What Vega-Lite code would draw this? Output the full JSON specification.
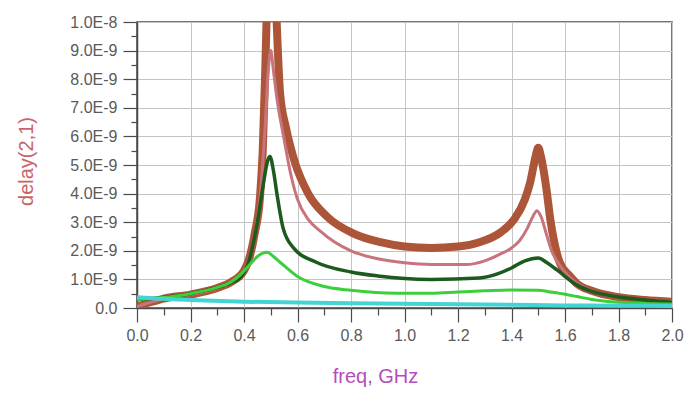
{
  "$schema": "https://vega.github.io/schema/vega-lite/v6.json",
  "autosize": {"type": "none"},
  "width": 535,
  "height": 286,
  "padding": {"left": 137, "top": 22, "right": 18, "bottom": 86},
  "background": "white",
  "config": {
    "view": {"stroke": "#4a4a4a", "strokeWidth": 1.5},
    "font": "Liberation Sans"
  },
  "datasets": {
    "delay": [
      {"f":0,"d":5e-11,"s":"s1"},{"f":0.05,"d":2e-10,"s":"s1"},{"f":0.1,"d":3.3e-10,"s":"s1"},{"f":0.2,"d":4.7e-10,"s":"s1"},{"f":0.3,"d":7e-10,"s":"s1"},{"f":0.35,"d":9e-10,"s":"s1"},{"f":0.4,"d":1.3e-9,"s":"s1"},{"f":0.42,"d":1.75e-9,"s":"s1"},{"f":0.44,"d":2.6e-9,"s":"s1"},{"f":0.46,"d":3.9e-9,"s":"s1"},{"f":0.47,"d":5.5e-9,"s":"s1"},{"f":0.48,"d":8.5e-9,"s":"s1"},{"f":0.49,"d":1.2e-8,"s":"s1"},{"f":0.5,"d":1.4e-8,"s":"s1"},{"f":0.51,"d":1.3e-8,"s":"s1"},{"f":0.52,"d":1.05e-8,"s":"s1"},{"f":0.535,"d":7.5e-9,"s":"s1"},{"f":0.557,"d":6.3e-9,"s":"s1"},{"f":0.59,"d":5.1e-9,"s":"s1"},{"f":0.64,"d":4.0e-9,"s":"s1"},{"f":0.71,"d":3.2e-9,"s":"s1"},{"f":0.81,"d":2.6e-9,"s":"s1"},{"f":0.91,"d":2.3e-9,"s":"s1"},{"f":1.0,"d":2.15e-9,"s":"s1"},{"f":1.1,"d":2.1e-9,"s":"s1"},{"f":1.2,"d":2.15e-9,"s":"s1"},{"f":1.28,"d":2.3e-9,"s":"s1"},{"f":1.36,"d":2.65e-9,"s":"s1"},{"f":1.41,"d":3.1e-9,"s":"s1"},{"f":1.45,"d":3.8e-9,"s":"s1"},{"f":1.47,"d":4.4e-9,"s":"s1"},{"f":1.49,"d":5.3e-9,"s":"s1"},{"f":1.5,"d":5.6e-9,"s":"s1"},{"f":1.51,"d":5.3e-9,"s":"s1"},{"f":1.53,"d":4.2e-9,"s":"s1"},{"f":1.545,"d":3.1e-9,"s":"s1"},{"f":1.56,"d":2.3e-9,"s":"s1"},{"f":1.58,"d":1.6e-9,"s":"s1"},{"f":1.62,"d":1.1e-9,"s":"s1"},{"f":1.645,"d":8.5e-10,"s":"s1"},{"f":1.7,"d":6e-10,"s":"s1"},{"f":1.8,"d":3.8e-10,"s":"s1"},{"f":1.9,"d":2.8e-10,"s":"s1"},{"f":2.0,"d":2.2e-10,"s":"s1"},

      {"f":0,"d":5e-11,"s":"s2"},{"f":0.05,"d":2e-10,"s":"s2"},{"f":0.1,"d":3.3e-10,"s":"s2"},{"f":0.2,"d":4.7e-10,"s":"s2"},{"f":0.3,"d":7e-10,"s":"s2"},{"f":0.35,"d":9e-10,"s":"s2"},{"f":0.4,"d":1.3e-9,"s":"s2"},{"f":0.42,"d":1.75e-9,"s":"s2"},{"f":0.44,"d":2.5e-9,"s":"s2"},{"f":0.46,"d":3.9e-9,"s":"s2"},{"f":0.48,"d":6.5e-9,"s":"s2"},{"f":0.49,"d":8.2e-9,"s":"s2"},{"f":0.5,"d":9.0e-9,"s":"s2"},{"f":0.51,"d":8.3e-9,"s":"s2"},{"f":0.525,"d":7.2e-9,"s":"s2"},{"f":0.546,"d":6.1e-9,"s":"s2"},{"f":0.572,"d":4.8e-9,"s":"s2"},{"f":0.6,"d":3.8e-9,"s":"s2"},{"f":0.64,"d":3.1e-9,"s":"s2"},{"f":0.684,"d":2.7e-9,"s":"s2"},{"f":0.74,"d":2.3e-9,"s":"s2"},{"f":0.8,"d":2.0e-9,"s":"s2"},{"f":0.9,"d":1.72e-9,"s":"s2"},{"f":1.0,"d":1.58e-9,"s":"s2"},{"f":1.1,"d":1.52e-9,"s":"s2"},{"f":1.23,"d":1.52e-9,"s":"s2"},{"f":1.3,"d":1.65e-9,"s":"s2"},{"f":1.35,"d":1.85e-9,"s":"s2"},{"f":1.4,"d":2.1e-9,"s":"s2"},{"f":1.43,"d":2.35e-9,"s":"s2"},{"f":1.46,"d":2.8e-9,"s":"s2"},{"f":1.48,"d":3.2e-9,"s":"s2"},{"f":1.495,"d":3.4e-9,"s":"s2"},{"f":1.51,"d":3.2e-9,"s":"s2"},{"f":1.53,"d":2.6e-9,"s":"s2"},{"f":1.55,"d":2.0e-9,"s":"s2"},{"f":1.58,"d":1.5e-9,"s":"s2"},{"f":1.62,"d":1.05e-9,"s":"s2"},{"f":1.7,"d":6e-10,"s":"s2"},{"f":1.8,"d":3.8e-10,"s":"s2"},{"f":1.9,"d":2.8e-10,"s":"s2"},{"f":2.0,"d":2.2e-10,"s":"s2"},

      {"f":0,"d":3e-10,"s":"s3"},{"f":0.05,"d":3.3e-10,"s":"s3"},{"f":0.1,"d":3.7e-10,"s":"s3"},{"f":0.2,"d":5e-10,"s":"s3"},{"f":0.3,"d":7.2e-10,"s":"s3"},{"f":0.35,"d":8.8e-10,"s":"s3"},{"f":0.385,"d":1.05e-9,"s":"s3"},{"f":0.42,"d":1.7e-9,"s":"s3"},{"f":0.45,"d":3.0e-9,"s":"s3"},{"f":0.47,"d":4.2e-9,"s":"s3"},{"f":0.49,"d":5.2e-9,"s":"s3"},{"f":0.497,"d":5.3e-9,"s":"s3"},{"f":0.51,"d":4.8e-9,"s":"s3"},{"f":0.523,"d":4.0e-9,"s":"s3"},{"f":0.546,"d":2.8e-9,"s":"s3"},{"f":0.585,"d":2.1e-9,"s":"s3"},{"f":0.67,"d":1.6e-9,"s":"s3"},{"f":0.8,"d":1.26e-9,"s":"s3"},{"f":0.9,"d":1.12e-9,"s":"s3"},{"f":1.0,"d":1.03e-9,"s":"s3"},{"f":1.1,"d":1.0e-9,"s":"s3"},{"f":1.28,"d":1.05e-9,"s":"s3"},{"f":1.35,"d":1.2e-9,"s":"s3"},{"f":1.4,"d":1.4e-9,"s":"s3"},{"f":1.45,"d":1.65e-9,"s":"s3"},{"f":1.5,"d":1.75e-9,"s":"s3"},{"f":1.53,"d":1.6e-9,"s":"s3"},{"f":1.57,"d":1.33e-9,"s":"s3"},{"f":1.645,"d":8e-10,"s":"s3"},{"f":1.7,"d":5.8e-10,"s":"s3"},{"f":1.79,"d":4e-10,"s":"s3"},{"f":1.9,"d":2.8e-10,"s":"s3"},{"f":2.0,"d":2e-10,"s":"s3"},

      {"f":0,"d":3e-10,"s":"s4"},{"f":0.05,"d":3.3e-10,"s":"s4"},{"f":0.1,"d":3.7e-10,"s":"s4"},{"f":0.2,"d":5e-10,"s":"s4"},{"f":0.3,"d":7.2e-10,"s":"s4"},{"f":0.35,"d":9e-10,"s":"s4"},{"f":0.385,"d":1.15e-9,"s":"s4"},{"f":0.42,"d":1.5e-9,"s":"s4"},{"f":0.45,"d":1.8e-9,"s":"s4"},{"f":0.486,"d":1.95e-9,"s":"s4"},{"f":0.51,"d":1.8e-9,"s":"s4"},{"f":0.535,"d":1.6e-9,"s":"s4"},{"f":0.6,"d":1.1e-9,"s":"s4"},{"f":0.7,"d":7.5e-10,"s":"s4"},{"f":0.8,"d":6.2e-10,"s":"s4"},{"f":0.97,"d":5.2e-10,"s":"s4"},{"f":1.1,"d":5.2e-10,"s":"s4"},{"f":1.2,"d":5.6e-10,"s":"s4"},{"f":1.3,"d":6e-10,"s":"s4"},{"f":1.4,"d":6.3e-10,"s":"s4"},{"f":1.5,"d":6.2e-10,"s":"s4"},{"f":1.545,"d":5.6e-10,"s":"s4"},{"f":1.6,"d":4.8e-10,"s":"s4"},{"f":1.645,"d":4e-10,"s":"s4"},{"f":1.7,"d":3e-10,"s":"s4"},{"f":1.8,"d":2e-10,"s":"s4"},{"f":1.9,"d":1.6e-10,"s":"s4"},{"f":2.0,"d":1.4e-10,"s":"s4"},

      {"f":0,"d":3.8e-10,"s":"s5"},{"f":0.1,"d":3.2e-10,"s":"s5"},{"f":0.2,"d":2.8e-10,"s":"s5"},{"f":0.4,"d":2.2e-10,"s":"s5"},{"f":0.6,"d":1.9e-10,"s":"s5"},{"f":0.8,"d":1.7e-10,"s":"s5"},{"f":1.0,"d":1.5e-10,"s":"s5"},{"f":1.2,"d":1.3e-10,"s":"s5"},{"f":1.4,"d":1.1e-10,"s":"s5"},{"f":1.6,"d":9e-11,"s":"s5"},{"f":1.8,"d":8e-11,"s":"s5"},{"f":2.0,"d":7e-11,"s":"s5"}
    ]
  },
  "data": {"name": "delay"},
  "encoding": {
    "x": {
      "field": "f", "type": "quantitative",
      "scale": {"domain": [0, 2.0], "nice": false, "zero": false},
      "axis": {
        "title": "freq, GHz",
        "titleColor": "#b64cbc",
        "titleFont": "Liberation Sans",
        "titleFontSize": 20,
        "titleFontWeight": "normal",
        "titleX": 238,
        "titleY": 74,
        "titleAnchor": null,
        "titleAlign": "center",
        "titleBaseline": "alphabetic",
        "values": [0,0.1,0.2,0.3,0.4,0.5,0.6,0.7,0.8,0.9,1.0,1.1,1.2,1.3,1.4,1.5,1.6,1.7,1.8,1.9,2.0],
        "labelExpr": "round(datum.value*10) % 2 === 0 ? format(datum.value, '.1f') : ''",
        "labelFontSize": 16,
        "labelColor": "#5a5a5a",
        "labelPadding": 5,
        "labelFlush": false,
        "labelOverlap": false,
        "tickSize": {"condition": {"test": "round(datum.value*10) % 2 === 0", "value": 14}, "value": 7},
        "tickColor": "#4a4a4a",
        "tickWidth": 1.2,
        "domainColor": "#4a4a4a",
        "domainWidth": 1.5,
        "grid": true,
        "gridColor": "#c4c4c4",
        "gridWidth": 1,
        "gridOpacity": {"condition": {"test": "round(datum.value*10) % 2 === 0", "value": 1}, "value": 0}
      }
    },
    "y": {
      "field": "d", "type": "quantitative",
      "scale": {"domain": [0, 1e-8], "nice": false, "zero": true},
      "axis": {
        "title": "delay(2,1)",
        "titleColor": "#c8646a",
        "titleFont": "Liberation Sans",
        "titleFontSize": 20,
        "titleFontWeight": "normal",
        "titleX": -111,
        "titleY": 139,
        "titleAngle": -90,
        "titleAlign": "center",
        "titleBaseline": "middle",
        "values": [0,5e-10,1e-9,1.5e-9,2e-9,2.5e-9,3e-9,3.5e-9,4e-9,4.5e-9,5e-9,5.5e-9,6e-9,6.5e-9,7e-9,7.5e-9,8e-9,8.5e-9,9e-9,9.5e-9,1e-8],
        "labelExpr": "round(datum.value*2e9) % 2 === 0 ? (round(datum.value*1e9) === 0 ? '0.0' : (round(datum.value*1e9) === 10 ? '1.0E-8' : round(datum.value*1e9) + '.0E-9')) : ''",
        "labelFontSize": 16,
        "labelColor": "#5a5a5a",
        "labelPadding": 6,
        "labelFlush": false,
        "labelOverlap": false,
        "tickSize": {"condition": {"test": "round(datum.value*2e9) % 2 === 0", "value": 14}, "value": 6},
        "tickColor": "#4a4a4a",
        "tickWidth": 1.2,
        "domainColor": "#4a4a4a",
        "domainWidth": 1.5,
        "grid": true,
        "gridColor": "#c4c4c4",
        "gridWidth": 1,
        "gridOpacity": {"condition": {"test": "round(datum.value*2e9) % 2 === 0", "value": 1}, "value": 0}
      }
    }
  },
  "layer": [
    {"transform": [{"filter": "datum.s === 's1'"}], "mark": {"type": "line", "clip": true, "color": "#ad5538", "strokeWidth": 8, "interpolate": "monotone"}},
    {"transform": [{"filter": "datum.s === 's2'"}], "mark": {"type": "line", "clip": true, "color": "#c9737c", "strokeWidth": 3, "interpolate": "monotone"}},
    {"transform": [{"filter": "datum.s === 's3'"}], "mark": {"type": "line", "clip": true, "color": "#1d5a1d", "strokeWidth": 3.5, "interpolate": "monotone"}},
    {"transform": [{"filter": "datum.s === 's4'"}], "mark": {"type": "line", "clip": true, "color": "#3ccf3c", "strokeWidth": 3, "interpolate": "monotone"}},
    {"transform": [{"filter": "datum.s === 's5'"}], "mark": {"type": "line", "clip": true, "color": "#44d4d4", "strokeWidth": 4, "interpolate": "monotone"}}
  ]
}
